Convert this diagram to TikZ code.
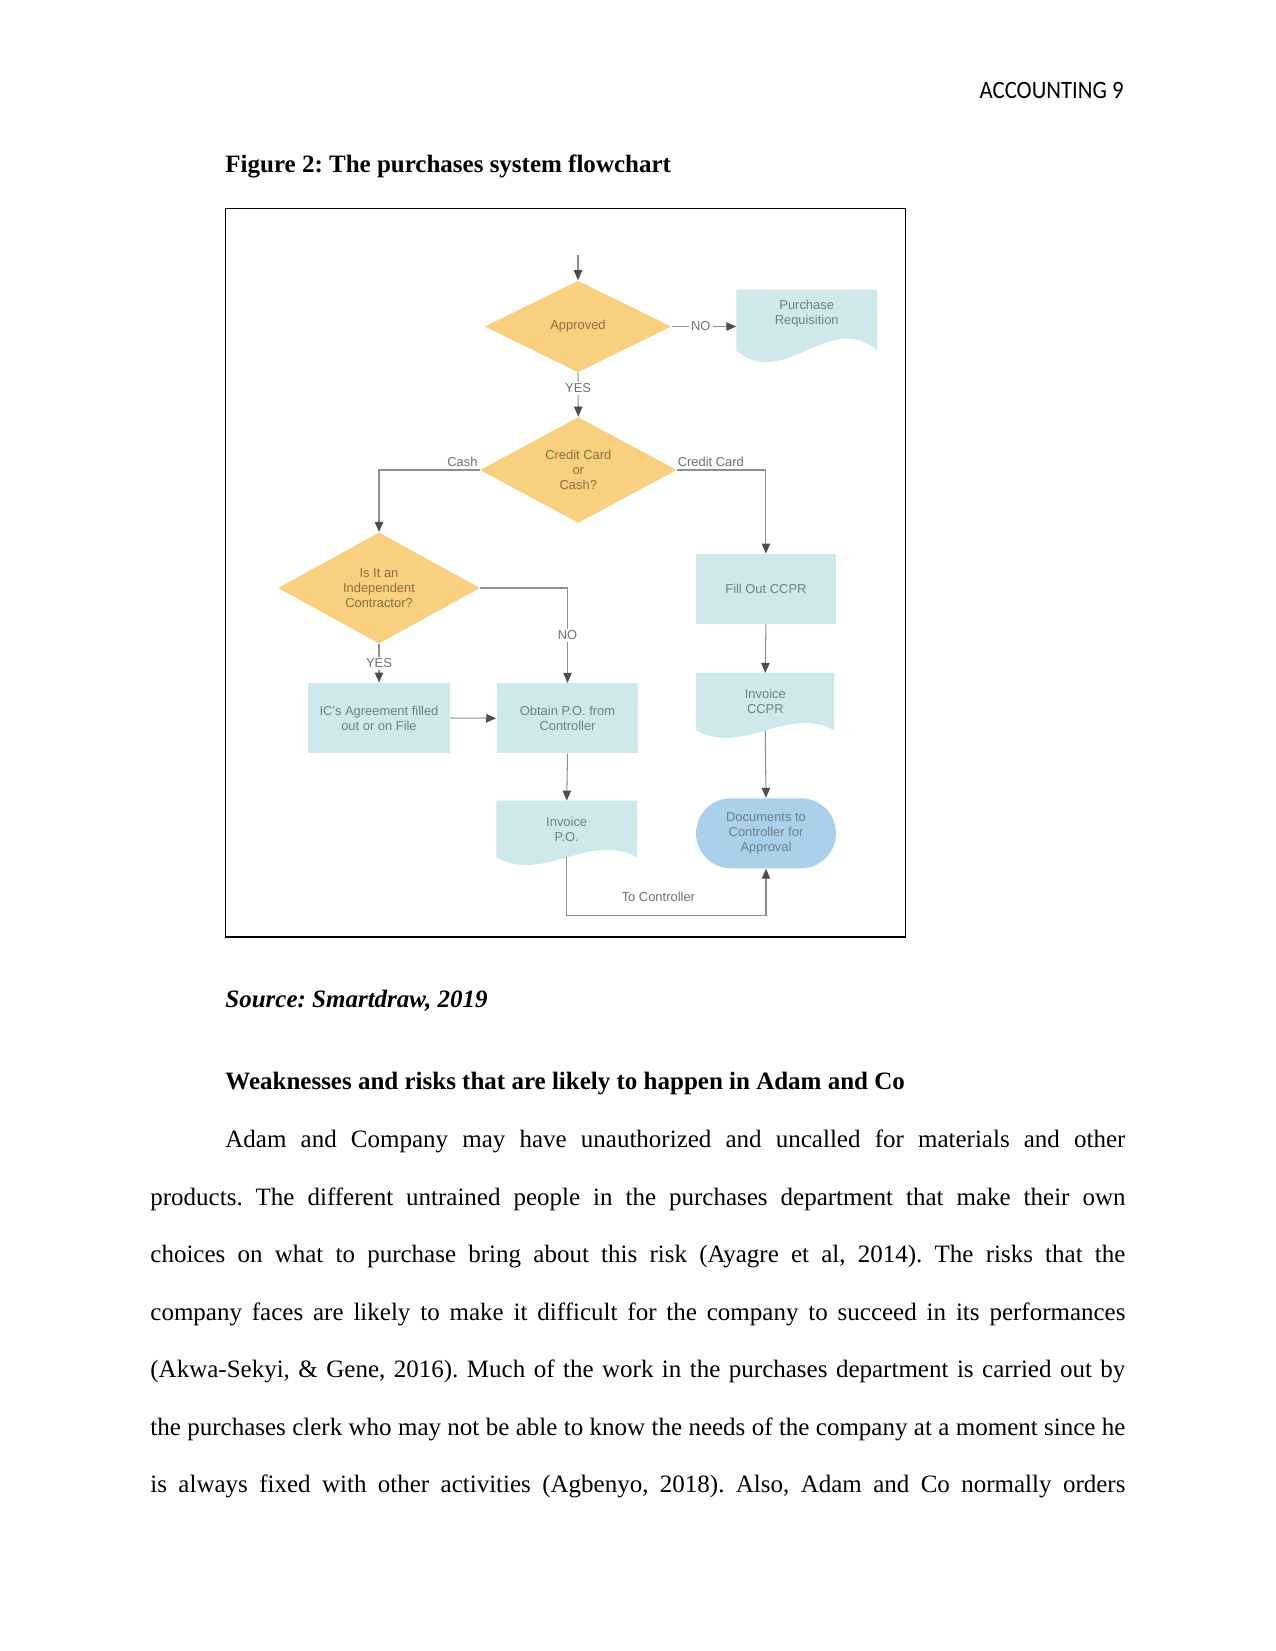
\documentclass[tikz,border=0pt]{standalone}
\usepackage{fontspec}
\setmainfont{Liberation Serif}
\newfontfamily\hdrfont{Carlito}
\newfontfamily\chartfont{Liberation Sans}
\usetikzlibrary{shapes.geometric,arrows.meta,calc}
\pgfdeclarelayer{pagelayer}
\pgfdeclarelayer{bglayer}
\pgfsetlayers{pagelayer,bglayer,main}
\definecolor{diaC}{HTML}{F9CF80}
\definecolor{diaT}{HTML}{8C6E3C}
\definecolor{boxC}{HTML}{CFE8EC}
\definecolor{boxT}{HTML}{6E7F88}
\definecolor{termC}{HTML}{A9D1EC}
\definecolor{lineC}{HTML}{8F8F8F}
\definecolor{headC}{HTML}{4D4D4D}
\definecolor{lblT}{HTML}{707070}
\newcommand\docwave[3]{%
  \fill[boxC] (#1.north west) -- (#1.north east) -- ($(#1.south east)+(0,#2)$)
    .. controls ($(#1.south east)!0.333!(#1.south west)+(0,#2-#3)$)
       and ($(#1.south east)!0.667!(#1.south west)+(0,#2+#3)$)
    .. ($(#1.south west)+(0,#2)$) -- cycle;}
\frenchspacing
\begin{document}
\frenchspacing
\begin{tikzpicture}[x=0.48pt,y=-0.48pt,
  chartfnt/.style={font=\chartfont\fontsize{6.2}{7.3}\selectfont},
  dia/.style={diamond, fill=diaC, inner sep=0pt, align=center, chartfnt, text=diaT},
  proc/.style={rectangle, fill=boxC, minimum width=68pt, minimum height=33.6pt, inner sep=0pt, align=center, chartfnt, text=boxT},
  docnode/.style={rectangle, inner sep=0pt, align=center, chartfnt, text=boxT},
  term/.style={rectangle, rounded corners=16.8pt, fill=termC, minimum width=67.2pt, minimum height=33.6pt, inner sep=0pt, align=center, chartfnt, text=boxT},
  arr/.style={draw=lineC, line width=0.5pt, -{Triangle[length=4.8pt,width=4pt,color=headC]}},
  lbl/.style={chartfnt, text=lblT, inner sep=1pt},
  body/.style={inner sep=0pt, anchor=base west, font=\fontsize{12}{14}\selectfont}
]
\begin{pgfonlayer}{pagelayer}
\path[use as bounding box, fill=white] (0,0) rectangle (1275,1651);
\end{pgfonlayer}

% header and headings
\node[inner sep=0pt, anchor=base east, font=\hdrfont\fontsize{12}{14}\selectfont] (hdr) at (1124,98.5) {\scalebox{0.91}[1]{ACCOUNTING 9}};
\node[body] (title) at (225,172.7) {\bfseries Figure 2: The purchases system flowchart};

% figure frame
\draw[line width=0.5pt] (225.3,208.5) rectangle (905.4,937);

% flowchart nodes
\node[dia, minimum width=89.6pt, minimum height=44pt] (appr) at (578,326.5) {Approved};
\node[docnode, minimum width=67.2pt, minimum height=23pt] (pr) at (806.7,314) {Purchase\\Requisition};
\node[dia, minimum width=94.4pt, minimum height=45.4pt] (cc) at (578.3,470) {Credit Card\\or\\Cash?};
\node[dia, minimum width=97pt, minimum height=45.6pt] (ic) at (379,588) {Is It an\\Independent\\Contractor?};
\node[proc] (ica) at (379,718) {IC's Agreement filled\\out or on File};
\node[proc] (obt) at (567.5,718.3) {Obtain P.O. from\\Controller};
\node[docnode, minimum width=67.2pt, minimum height=26.9pt] (ipo) at (566.7,829) {Invoice\\P.O.};
\node[proc, minimum width=67.3pt] (fcc) at (765.9,589) {Fill Out CCPR};
\node[docnode, minimum width=65.9pt, minimum height=27.2pt] (icc) at (765.3,701.7) {Invoice\\CCPR};
\node[term] (doc) at (766,833.3) {Documents to\\Controller for\\Approval};

\begin{pgfonlayer}{bglayer}
\docwave{pr}{12}{41}
\docwave{ipo}{0}{26}
\docwave{icc}{0}{26}
\end{pgfonlayer}

% connectors
\coordinate (start) at (578,255);
\draw[arr] (start) -- (appr.north);
\draw[arr] (appr.east) -- (appr.east -| pr.west) node[lbl, pos=0.45, fill=white] {NO};
\draw[arr] (appr.south) -- (cc.north) node[lbl, pos=0.36, fill=white] {YES};
\draw[arr] (cc.west) -| (ic.north) node[lbl, pos=0.085, anchor=south, inner sep=1.5pt] {Cash};
\draw[arr] (cc.east) -| (fcc.north) node[lbl, pos=0.19, anchor=south, inner sep=1.5pt] {Credit Card};
\draw[arr] (ic.east) -| (obt.north) node[lbl, pos=0.75, fill=white] {NO};
\draw[arr] (ic.south) -- (ica.north) node[lbl, pos=0.5, fill=white] {YES};
\draw[arr] (ica.east) -- (obt.west);
\draw[arr] (obt.south) -- (ipo.north);
\draw[arr] (ipo.south) |- ($(doc.south)+(0,47)$) node[lbl, pos=0.73, anchor=south, inner sep=0pt, yshift=6.5pt] {To Controller} -- (doc.south);
\draw[arr] (fcc.south) -- (icc.north);
\draw[arr] (icc.south) -- (doc.north);

% text below the figure
\node[body] (src) at (225,1007.5) {\bfseries\itshape Source: Smartdraw, 2019};
\node[body] (sec) at (225,1089.6) {\bfseries Weaknesses and risks that are likely to happen in Adam and Co};
\node[body] (l1) at (225,1147.5) {\makebox[432pt][s]{Adam and Company may have unauthorized and uncalled for materials and other}};
\node[body] (l2) at (150,1205) {\makebox[468pt][s]{products. The different untrained people in the purchases department that make their own}};
\node[body] (l3) at (150,1262.5) {\makebox[468pt][s]{choices on what to purchase bring about this risk (Ayagre et al, 2014). The risks that the}};
\node[body] (l4) at (150,1320) {\makebox[468pt][s]{company faces are likely to make it difficult for the company to succeed in its performances}};
\node[body] (l5) at (150,1377.5) {\makebox[468pt][s]{(Akwa-Sekyi, \& Gene, 2016). Much of the work in the purchases department is carried out by}};
\node[body] (l6) at (150,1435) {\makebox[468pt][s]{the purchases clerk who may not be able to know the needs of the company at a moment since he}};
\node[body] (l7) at (150,1492.5) {\makebox[468pt][s]{is always fixed with other activities (Agbenyo, 2018). Also, Adam and Co normally orders}};
\end{tikzpicture}
\end{document}
